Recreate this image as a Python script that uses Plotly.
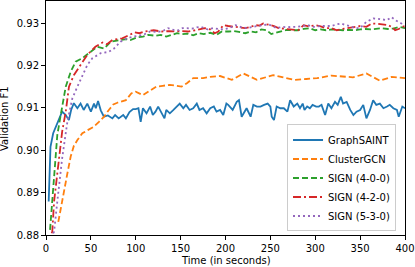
import plotly.graph_objects as go

# GraphSAINT
saint_t = [3, 5, 8, 12.5, 15, 18, 22, 25.5, 28, 31,
           35, 38.5, 42, 46, 50, 53.5, 55.5, 58, 61, 64.5,
           69, 74, 77, 81, 86, 89, 93, 97, 100, 103,
           105.5, 108, 112, 116, 119, 122, 125, 128, 132, 134,
           138, 142, 146, 149, 153, 156, 160, 164, 168, 171,
           175, 179, 183, 187, 190, 194, 197.5, 201, 203, 205,
           208, 212.5, 215, 218, 221, 223.5, 228, 231, 235, 239,
           243, 247, 250, 251.5, 254, 257, 261, 265, 269, 272,
           276, 280, 283, 286, 288, 291, 294, 297, 301, 304,
           307, 311, 314.5, 318, 322, 325, 328.5, 331, 335, 339,
           342.5, 346, 350, 353.5, 357, 361, 364.5, 368, 372, 376,
           380, 383, 387, 391, 393, 397, 400]
saint_v = [0.8879, 0.9008, 0.904, 0.9063, 0.9075, 0.9091, 0.9083, 0.9071, 0.9095, 0.9111,
           0.9099, 0.911, 0.9095, 0.911, 0.9091, 0.911, 0.9099, 0.9116, 0.9094, 0.9079,
           0.9082, 0.9075, 0.9083, 0.9075, 0.9083, 0.9075, 0.909, 0.9097, 0.9097, 0.9099,
           0.9067, 0.9099, 0.9087, 0.9103, 0.9083, 0.9091, 0.9103, 0.9091, 0.9075, 0.9095,
           0.9087, 0.9095, 0.9103, 0.911, 0.9099, 0.9107, 0.9095, 0.9099, 0.911, 0.9095,
           0.9099, 0.9087, 0.9099, 0.9103, 0.9091, 0.9095, 0.9083, 0.911, 0.9107, 0.9103,
           0.9095, 0.9114, 0.9118, 0.9079, 0.9091, 0.9099, 0.9079, 0.9107, 0.9103, 0.9103,
           0.9107, 0.911, 0.9103, 0.9079, 0.9071, 0.9103, 0.9099, 0.9099, 0.9091, 0.9118,
           0.9103, 0.911, 0.9099, 0.911, 0.9095, 0.9103, 0.9099, 0.9107, 0.9103, 0.9103,
           0.9107, 0.9083, 0.911, 0.9099, 0.9114, 0.9107, 0.9126, 0.911, 0.9114, 0.9095,
           0.9083, 0.9091, 0.9095, 0.9107, 0.9075, 0.9095, 0.9118, 0.9107, 0.911, 0.9099,
           0.9103, 0.9107, 0.9099, 0.9095, 0.9079, 0.9103, 0.9099]

# ClusterGCN
cluster_t = [13.7, 16, 19.3, 23.8, 27.5, 31, 35, 40.5, 47, 53,
             59, 65, 70, 75, 79.5, 85, 89, 95, 100, 108,
             115, 123, 130, 138, 145, 151, 157, 164, 175, 183,
             194, 207, 220, 235, 253, 265, 277, 290, 302, 318,
             330, 342, 357, 372, 385, 400]
cluster_v = [0.8831, 0.8855, 0.889, 0.8945, 0.8985, 0.901, 0.9024, 0.904, 0.9048, 0.9055,
             0.9067, 0.908, 0.9095, 0.9108, 0.9112, 0.9115, 0.9118, 0.9134, 0.9138, 0.913,
             0.914, 0.915, 0.9152, 0.9154, 0.9152, 0.915, 0.9158, 0.917, 0.917, 0.9173,
             0.9175, 0.9166, 0.9181, 0.9166, 0.9177, 0.9172, 0.9166, 0.9168, 0.917, 0.9176,
             0.9174, 0.9172, 0.9181, 0.9164, 0.9173, 0.917]

# SIGN (4-0-0)
sign400_t = [4.5, 5.2, 9, 12.6, 16.4, 22, 27.5, 33, 40.5, 48,
             57, 65, 72, 83, 90, 94, 101, 108, 114, 122,
             128, 134, 140, 146, 152, 158, 164, 170, 176, 183,
             190, 196, 203.5, 209, 215, 222, 228, 234, 240, 246,
             251, 255, 262, 268, 274, 280, 287, 294, 300, 306,
             312, 318, 325, 331, 338, 344, 350, 356, 362, 368,
             374, 381, 387, 394, 400]
sign400_v = [0.8812, 0.8831, 0.8918, 0.9036, 0.9083, 0.915, 0.9185, 0.9209, 0.9217, 0.9229,
             0.9244, 0.924, 0.9256, 0.926, 0.9262, 0.926, 0.9266, 0.9268, 0.9272, 0.927,
             0.9272, 0.9268, 0.9272, 0.9276, 0.9274, 0.9275, 0.9271, 0.9276, 0.9274, 0.9277,
             0.9272, 0.928, 0.928, 0.9281, 0.9279, 0.9276, 0.928, 0.9278, 0.9285, 0.9283,
             0.9274, 0.9276, 0.9281, 0.9284, 0.9283, 0.9283, 0.9286, 0.9288, 0.9283, 0.9285,
             0.9283, 0.9285, 0.9284, 0.9283, 0.9284, 0.9283, 0.9285, 0.9286, 0.9285, 0.9287,
             0.9288, 0.9286, 0.9287, 0.9291, 0.9288]

# SIGN (4-2-0)
sign420_t = [6.3, 7, 9, 12.6, 18, 22, 25.6, 31, 38.6, 46,
             55, 63, 68, 74, 85, 93, 99, 104, 110, 120,
             129, 137, 144, 150, 158, 166, 172, 177, 183, 188,
             192, 197.6, 203, 210, 216, 222, 228, 233, 238, 242,
             248, 254, 259, 266, 272, 281, 287, 293, 300, 306,
             312, 318, 324, 330, 337, 344, 350, 357, 363, 370,
             376, 381, 386, 389, 393, 396, 400]
sign420_v = [0.8804, 0.8808, 0.8879, 0.8949, 0.9044, 0.9091, 0.915, 0.9177, 0.9201, 0.9225,
             0.9244, 0.9254, 0.925, 0.926, 0.9264, 0.9271, 0.9278, 0.9276, 0.928, 0.9283,
             0.928, 0.9281, 0.928, 0.9281, 0.928, 0.9283, 0.9285, 0.9288, 0.9285, 0.9276,
             0.928, 0.9295, 0.9293, 0.9291, 0.9289, 0.9288, 0.9291, 0.9295, 0.9294, 0.9299,
             0.9296, 0.9293, 0.9288, 0.9287, 0.9285, 0.9283, 0.9295, 0.9292, 0.9295, 0.9292,
             0.9288, 0.9288, 0.9283, 0.9286, 0.9289, 0.9291, 0.9293, 0.9291, 0.9299, 0.9298,
             0.9296, 0.9295, 0.929, 0.9283, 0.9286, 0.929, 0.9293]

# SIGN (5-3-0)
sign530_t = [8, 9, 12.6, 18, 23.8, 29.3, 35, 40.5, 46, 51.6,
             61, 70, 75.8, 83, 90.6, 97, 103.6, 110, 116, 124,
             130, 136, 142, 148, 152, 157, 163, 168, 173, 180,
             186, 192, 197.6, 204, 211, 218, 224, 230, 236, 242,
             248, 252, 257, 263, 269, 274, 279, 286, 292, 297,
             300, 306, 312, 318, 324, 329, 334, 339, 344, 350,
             357, 361, 365, 370, 375, 380, 385, 390, 396, 400]
sign530_v = [0.8804, 0.8808, 0.8879, 0.8981, 0.9067, 0.9122, 0.915, 0.9177, 0.9201, 0.9217,
             0.9229, 0.9232, 0.924, 0.9256, 0.9264, 0.9268, 0.927, 0.9274, 0.928, 0.9279,
             0.9281, 0.9288, 0.9284, 0.9283, 0.9288, 0.9288, 0.9287, 0.929, 0.9291, 0.9285,
             0.9288, 0.9286, 0.9285, 0.9288, 0.9295, 0.929, 0.9288, 0.9291, 0.9293, 0.9295,
             0.9297, 0.9293, 0.9288, 0.9291, 0.929, 0.9291, 0.9291, 0.9293, 0.9295, 0.9291,
             0.9291, 0.9293, 0.9293, 0.9293, 0.9297, 0.9299, 0.9295, 0.9293, 0.9288, 0.9288,
             0.9303, 0.9308, 0.9311, 0.931, 0.9308, 0.9307, 0.9314, 0.9306, 0.9299, 0.9295]

x_ticks = [0, 50, 100, 150, 200, 250, 300, 350, 400]
y_ticks = [0.88, 0.89, 0.90, 0.91, 0.92, 0.93]

series = [
    ("GraphSAINT", saint_t, saint_v, "#1f77b4", "solid"),
    ("ClusterGCN", cluster_t, cluster_v, "#ff7f0e", "6px,3px"),
    ("SIGN (4-0-0)", sign400_t, sign400_v, "#2ca02c", "6px,3px"),
    ("SIGN (4-2-0)", sign420_t, sign420_v, "#d62728", "8px,3px,2px,3px"),
    ("SIGN (5-3-0)", sign530_t, sign530_v, "#9467bd", "2px,3px"),
]

fig = go.Figure()
for name, t, v, c, d in series:
    fig.add_trace(go.Scatter(x=t, y=v, mode="lines", name=name,
                             line=dict(color=c, width=1.8, dash=d)))

axis_common = dict(showline=True, mirror=True, linecolor="black", linewidth=1,
                   ticks="outside", ticklen=4, tickwidth=1, tickcolor="black",
                   showgrid=False, zeroline=False, automargin=False,
                   tickfont=dict(size=10, color="black"))

fig.update_layout(
    width=415, height=267,
    margin=dict(l=46, r=10, t=1, b=32, autoexpand=False),
    paper_bgcolor="white", plot_bgcolor="white",
    font=dict(family="DejaVu Sans", size=10, color="black"),
    xaxis=dict(range=[0, 400], tickvals=x_ticks, **axis_common),
    yaxis=dict(range=[0.88, 0.9352], tickvals=y_ticks, tickformat=".2f", **axis_common),
    legend=dict(x=0.975, y=0.015, xanchor="right", yanchor="bottom",
                bordercolor="#cccccc", borderwidth=1,
                bgcolor="rgba(255,255,255,0.8)", font=dict(size=10),
                tracegroupgap=0),
    showlegend=True,
    annotations=[
        dict(text="Time (in seconds)", xref="paper", yref="paper",
             x=0.5, y=-0.108, xanchor="center", yanchor="middle",
             showarrow=False, font=dict(size=10)),
        dict(text="Validation F1", xref="paper", yref="paper",
             x=-0.117, y=0.5, xanchor="center", yanchor="middle",
             textangle=-90, showarrow=False, font=dict(size=10)),
    ],
)

fig.write_html("out.html", config={"displayModeBar": False},
               post_script="document.body.style.margin='0';document.body.style.overflow='hidden';")
